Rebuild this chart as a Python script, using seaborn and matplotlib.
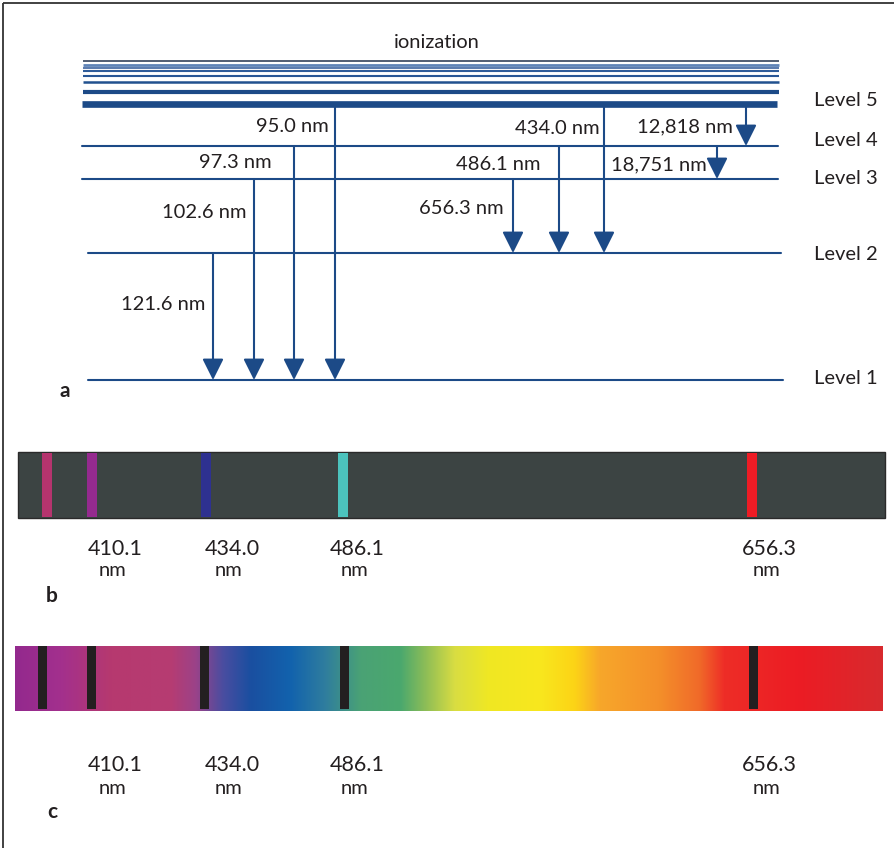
import numpy as np
import pandas as pd
import seaborn as sns
import matplotlib
matplotlib.use("Agg")
from matplotlib import pyplot as plt
from matplotlib.patches import FancyArrowPatch, Rectangle
from matplotlib.colors import LinearSegmentedColormap

# ---- panel a: energy levels (schematic heights, image units) ----
level_names = ["Level 1", "Level 2", "Level 3", "Level 4", "Level 5"]
level_y = [380, 253, 179, 146, 103.8]
level_x0 = [88, 88, 82, 82, 82]
level_x1 = [783, 781, 778, 778, 777]
level_label_y = [379, 254, 179, 140, 101]

# lines converging to ionization
ion_y = [61.3, 65.2, 67.8, 71.3, 76.0, 82.3, 92.0]
ion_lw = [1.1, 2.0, 1.2, 1.5, 1.5, 1.8, 3.0]
ion_col = ["#22324d", "#5f84b8", "#3d64a0", "#2f5c9a", "#285696", "#21518f", "#1c4a87"]

# transitions: upper level, lower level, arrow x, label, label right edge, label y
tr_upper = [2, 3, 4, 5, 3, 4, 5, 4, 5]
tr_lower = [1, 1, 1, 1, 2, 2, 2, 3, 4]
tr_x = [213, 254, 294, 335, 513, 559, 604, 717, 746]
tr_label = ["121.6 nm", "102.6 nm", "97.3 nm", "95.0 nm",
            "656.3 nm", "486.1 nm", "434.0 nm", "18,751 nm", "12,818 nm"]
tr_label_x = [205, 246, 272, 329, 504, 540, 600, 707, 733]
tr_label_y = [304, 212, 162, 126, 208, 164, 128, 165, 127]

# ---- panels b and c: spectra ----
wavelengths = [397.0, 410.1, 434.0, 486.1, 656.3]
emission_x = [47, 92, 206, 343, 752]
absorption_x = [42, 91, 204, 344, 753]
emission_colors = ["#b5346e", "#952a8f", "#2e3190", "#4cc3bd", "#ee1c25"]
label_x = [None, 115, 232, 357, 769]

grad_pos = [0.0, 0.052, 0.11, 0.179, 0.207, 0.239, 0.271, 0.317, 0.357, 0.398,
            0.444, 0.473, 0.507, 0.547, 0.605, 0.645, 0.674, 0.743, 0.789, 0.818,
            0.904, 1.0]
grad_col = ["#93298e", "#a3308d", "#b6396f", "#b63c72", "#9c4288", "#4a4da0",
            "#1a4fa0", "#1262ad", "#2f7d9e", "#4aa275", "#4aa86e", "#8dbd57",
            "#d9dd42", "#f0e823", "#f8e71e", "#fcd416", "#f7a72a", "#f48f2a",
            "#f06a29", "#ee2d27", "#ec1c24", "#d82a2e"]

blue = "#1c4a87"
ink = "#231f20"

sns.set_theme(style="white")
plt.rcParams["font.family"] = ["Lato", "DejaVu Sans"]

fig = plt.figure(figsize=(8.94, 8.48), dpi=100)
ax = fig.add_axes([0, 0, 1, 1])
ax.set_xlim(0, 894)
ax.set_ylim(848, 0)
ax.axis("off")

# frame (left and top only)
ax.plot([3, 3], [848, 2.5], color="#333333", lw=1.3, solid_capstyle="butt")
ax.plot([2.5, 894], [2.5, 2.5], color="#333333", lw=1.3, solid_capstyle="butt")

# levels via seaborn
rows = []
for i, name in enumerate(level_names[:4]):
    rows.append({"level": name, "x": level_x0[i], "y": level_y[i]})
    rows.append({"level": name, "x": level_x1[i], "y": level_y[i]})
levels = pd.DataFrame(rows)
sns.lineplot(data=levels, x="x", y="y", units="level", estimator=None, sort=False,
             color=blue, linewidth=1.5, legend=False, ax=ax)
ax.set_xlim(0, 894)
ax.set_ylim(848, 0)
ax.hlines(level_y[4], level_x0[4], level_x1[4], color=blue, lw=4.8)
ax.hlines(ion_y, 83, 779, colors=ion_col, linewidths=ion_lw)
ax.text(437, 42, "ionization", ha="center", va="center", fontsize=14.5, color=ink)

for name, ly in zip(level_names, level_label_y):
    ax.text(846, ly, name, ha="center", va="center", fontsize=14.5, color=ink)

for up, lo, x, lab, lx, lyy in zip(tr_upper, tr_lower, tr_x, tr_label,
                                  tr_label_x, tr_label_y):
    arr = FancyArrowPatch((x, level_y[up - 1]), (x, level_y[lo - 1]),
                          arrowstyle="-|>,head_length=13,head_width=6.5",
                          mutation_scale=1, lw=1.5, color=blue,
                          shrinkA=0, shrinkB=0)
    ax.add_patch(arr)
    ax.text(lx, lyy, lab, ha="right", va="center", fontsize=14.5, color=ink)

ax.text(65, 391, "a", ha="center", va="center", fontsize=15, fontweight="bold", color=ink)

# panel b: emission spectrum
ax.add_patch(Rectangle((18, 452), 867, 66, facecolor="#3c4443", edgecolor="#2a2a2a", lw=1))
for x, c in zip(emission_x, emission_colors):
    ax.add_patch(Rectangle((x - 5, 453), 10, 64, facecolor=c, edgecolor="none"))
for lx, w in zip(label_x, wavelengths):
    if lx is None:
        continue
    ax.text(lx, 549, f"{w:.1f}", ha="center", va="center", fontsize=15.5, color=ink)
    ax.text(lx - 3, 571, "nm", ha="center", va="center", fontsize=14.5, color=ink)
ax.text(52, 596, "b", ha="center", va="center", fontsize=15, fontweight="bold", color=ink)

# panel c: absorption spectrum
cmap = LinearSegmentedColormap.from_list("spec", list(zip(grad_pos, grad_col)), N=512)
ax.imshow(np.linspace(0, 1, 512)[None, :], cmap=cmap, aspect="auto",
          extent=(15, 883, 711, 646), interpolation="bilinear")
for x in absorption_x:
    ax.add_patch(Rectangle((x - 4.5, 646), 9, 63, facecolor=ink, edgecolor="none"))
for lx, w in zip(label_x, wavelengths):
    if lx is None:
        continue
    ax.text(lx, 765, f"{w:.1f}", ha="center", va="center", fontsize=15.5, color=ink)
    ax.text(lx - 3, 789, "nm", ha="center", va="center", fontsize=14.5, color=ink)
ax.text(52, 812, "c", ha="center", va="center", fontsize=15, fontweight="bold", color=ink)

ax.set_xlim(0, 894)
ax.set_ylim(848, 0)
fig.savefig("out.png", dpi=100, facecolor="white")
